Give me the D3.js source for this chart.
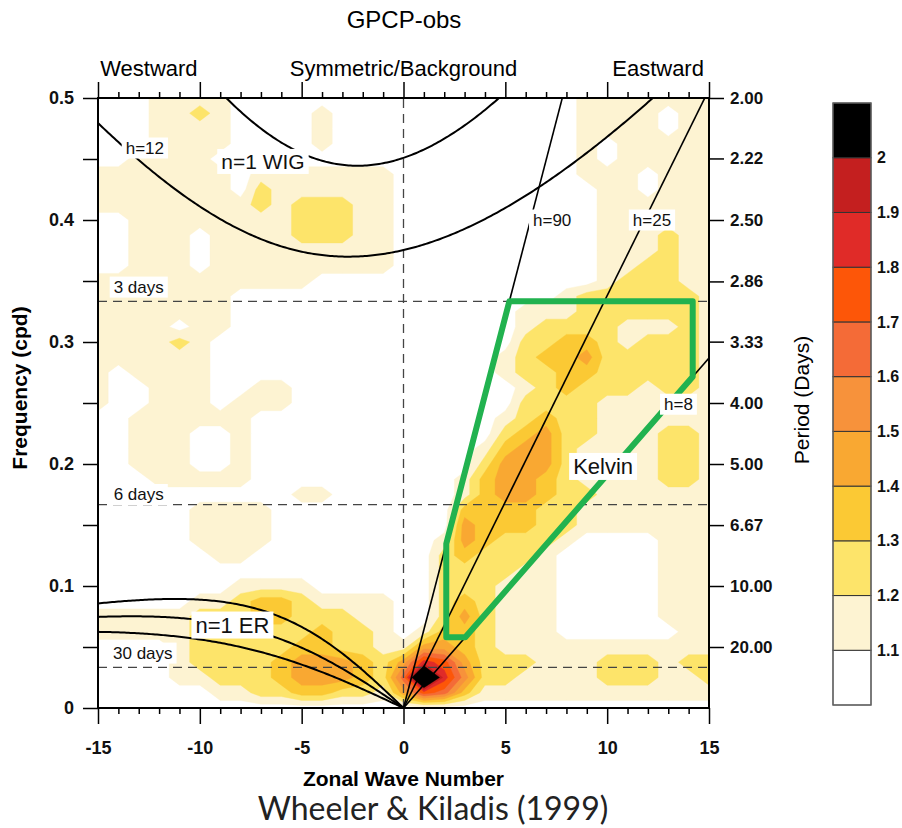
<!DOCTYPE html>
<html>
<head>
<meta charset="utf-8">
<script src="https://cdn.jsdelivr.net/npm/d3@7"></script>
<style>
  html, body { margin: 0; padding: 0; background: #fff; }
  svg { display: block; font-family: "Liberation Sans", Arial, sans-serif; }
</style>
</head>
<body>
<svg id="chart" width="902" height="828"></svg>
<script>
// grid of the normalised symmetric spectrum
// columns: zonal wavenumber -15..15, rows: frequency 0.5 (top) .. 0 (bottom)
const waveNumbers = d3.range(-15, 16);
const frequencies = d3.range(40, -1, -1).map((i) => i * 0.0125);

// one char per cell: 0 = below 1.1, 1 = 1.1-1.2, ... 9 = 1.9-2.0, X = above 2
const levelCodes = "0123456789X";
const levelValues = [1.05, 1.15, 1.25, 1.35, 1.45, 1.55, 1.65, 1.75, 1.85, 1.95, 2.5];

// westward | k=0 | eastward
const powerRows = [
  "000111100000000|0|000000001111111",
  "000112100001000|0|000000001111011",
  "000111100001000|0|000000001111011",
  "000111100001000|0|000000001011111",
  "001111000000000|0|000000001011111",
  "111111101111111|0|000000001110111",
  "111111102111111|0|000000000110111",
  "111111112122211|0|000000000111111",
  "001111111122211|0|000000000111111",
  "001110111122211|0|000000000111211",
  "001110111111111|0|000000000111211",
  "001110111111111|0|000000000112211",
  "111111111110000|0|000000000122211",
  "111111100000000|0|000000012222221",
  "111111100000000|0|000001112222221",
  "111101100000000|0|000001222211121",
  "111121000000000|0|000002233212221",
  "111111000000000|0|000012334222221",
  "101111000000000|0|000012233222221",
  "100111001100000|0|000001232221221",
  "100111011100000|0|000002222111111",
  "001111110000000|0|000012322111111",
  "001110010000000|0|000023422111221",
  "001110010000000|0|000134421111221",
  "001110010000000|0|000244421111221",
  "000111110000000|0|001344321111221",
  "000000000011000|0|001344322111111",
  "000001111000000|0|003333221111111",
  "000001111000000|0|004333221111111",
  "000001111000000|0|014322210000111",
  "000000110000000|0|023222100000111",
  "000000000000000|0|022221100000111",
  "000000011110000|0|022211100000111",
  "000001123321111|0|023211100000111",
  "111112223322211|0|024211100000111",
  "111112222223221|0|133211100000011",
  "000012222233221|1|443211111111111",
  "000012222344432|4|874222111222122",
  "000011222344432|6|X85221111222112",
  "000000112233221|4|763111111111111",
  "000000000000000|0|000000000000000",
];

const contourLevels = [1.1, 1.2, 1.3, 1.4, 1.5, 1.6, 1.7, 1.8, 1.9, 2.0];
const levelColors = ["#ffffff", "#fdf3d2", "#fde46a", "#fbc934", "#f9a832", "#f7923b",
  "#f46b37", "#fd5608", "#e02b28", "#c41f1f", "#000000"];

// equivalent depths (m) of the theoretical curves
const kelvinDepths = [8, 25, 90];
const erDepths = [12, 25, 50];
const wigDepths = [12, 25];

// Kelvin filter box
const kelvinBox = { kMin: 2.1, kMax: 14.2, fMin: 0.058, fMax: 1 / 3, hMin: 8, hMax: 90 };

const dayLines = [3, 6, 30];
const periodTicks = [2, 2.22, 2.5, 2.86, 3.33, 4, 5, 6.67, 10, 20];

const curveLabels = [
  { text: "h=12", k: -12.7, f: 0.459, size: 17 },
  { text: "n=1 WIG", k: -6.9, f: 0.448, size: 21 },
  { text: "h=90", k: 7.3, f: 0.4, size: 17 },
  { text: "h=25", k: 12.2, f: 0.4, size: 17 },
  { text: "h=8", k: 13.5, f: 0.249, size: 17 },
  { text: "Kelvin", k: 9.8, f: 0.198, size: 22 },
  { text: "n=1 ER", k: -8.4, f: 0.068, size: 22 },
  { text: "3 days", k: -13.0, f: 0.345, size: 17 },
  { text: "6 days", k: -13.0, f: 0.175, size: 17 },
  { text: "30 days", k: -12.8, f: 0.045, size: 17 },
];

// physics for the dispersion curves
const G = 9.81;
const EARTH_R = 6.371e6;
const BETA = (2 * 7.292e-5) / EARTH_R;
const TO_CPD = 86400 / (2 * Math.PI);

function kelvinFreq(h, k) {
  return (Math.sqrt(G * h) * k / EARTH_R) * TO_CPD;
}

function erFreq(h, k) {
  const c = Math.sqrt(G * h);
  const kd = k / EARTH_R;
  return (-BETA * kd / (kd * kd + 3 * BETA / c)) * TO_CPD;
}

function wigFreq(h, k) {
  // largest root of w^3 - (c^2 k^2 + 3 beta c) w - beta k c^2 = 0
  const c = Math.sqrt(G * h);
  const kd = k / EARTH_R;
  const p = -(c * c * kd * kd + 3 * BETA * c);
  const q = -BETA * kd * c * c;
  const m = 2 * Math.sqrt(-p / 3);
  const arg = Math.max(-1, Math.min(1, (3 * q) / (p * m)));
  return m * Math.cos(Math.acos(arg) / 3) * TO_CPD;
}

const svg = d3.select("#chart");
const x = d3.scaleLinear().domain([-15, 15]).range([98, 709]);
const y = d3.scaleLinear().domain([0, 0.5]).range([708, 98]);

svg.append("defs").append("clipPath").attr("id", "plotClip")
  .append("rect")
  .attr("x", x(-15)).attr("y", y(0.5))
  .attr("width", x(15) - x(-15)).attr("height", y(0) - y(0.5));

const plot = svg.append("g").attr("clip-path", "url(#plotClip)");

// filled contours
const values = [];
for (const row of powerRows) {
  for (const ch of row.replace(/\|/g, "")) values.push(levelValues[levelCodes.indexOf(ch)]);
}
const nx = waveNumbers.length;
const ny = frequencies.length;
const fStep = frequencies[0] - frequencies[1];
const contours = d3.contours().size([nx, ny]).thresholds(contourLevels)(values);
const gridPath = d3.geoPath(d3.geoTransform({
  point(px, py) {
    this.stream.point(x(waveNumbers[0] + (px - 0.5)), y(frequencies[0] - (py - 0.5) * fStep));
  },
}));
plot.append("g").selectAll("path")
  .data(contours)
  .join("path")
  .attr("d", gridPath)
  .attr("fill", (d, i) => levelColors[i + 1])
  .attr("stroke", (d, i) => levelColors[i + 1])
  .attr("stroke-width", 0.4);

// dashed reference lines
const dash = plot.append("g").attr("stroke", "#444").attr("stroke-width", 1.3)
  .attr("stroke-dasharray", "9,6").attr("fill", "none");
for (const d of dayLines) {
  dash.append("line").attr("x1", x(-15)).attr("x2", x(15)).attr("y1", y(1 / d)).attr("y2", y(1 / d));
}
dash.append("line").attr("x1", x(0)).attr("x2", x(0)).attr("y1", y(0)).attr("y2", y(0.5));

// dispersion curves
const line = d3.line().x((d) => x(d[0])).y((d) => y(d[1]));
const curves = plot.append("g").attr("fill", "none").attr("stroke", "#000");
const westK = d3.range(-15, 0.0001, 0.1);
const allK = d3.range(-15, 15.0001, 0.1);
for (const h of kelvinDepths) {
  curves.append("path").attr("stroke-width", 1.6)
    .attr("d", line([[0, 0], [15, kelvinFreq(h, 15)]]));
}
for (const h of erDepths) {
  curves.append("path").attr("stroke-width", 2)
    .attr("d", line(westK.map((k) => [k, erFreq(h, k)])));
}
for (const h of wigDepths) {
  curves.append("path").attr("stroke-width", 2)
    .attr("d", line(allK.map((k) => [k, wigFreq(h, k)])));
}

// Kelvin box
const b = kelvinBox;
const kAt = (h, f) => f / kelvinFreq(h, 1);
const boxPts = [
  [b.kMin, b.fMin],
  [b.kMin, kelvinFreq(b.hMax, b.kMin)],
  [kAt(b.hMax, b.fMax), b.fMax],
  [b.kMax, b.fMax],
  [b.kMax, kelvinFreq(b.hMin, b.kMax)],
  [kAt(b.hMin, b.fMin), b.fMin],
];
plot.append("path")
  .attr("d", line(boxPts) + "Z")
  .attr("fill", "none").attr("stroke", "#21b24f").attr("stroke-width", 6)
  .attr("stroke-linejoin", "round");

// labels with white boxes
for (const lab of curveLabels) {
  const g = svg.append("g");
  const t = g.append("text")
    .attr("x", x(lab.k)).attr("y", y(lab.f))
    .attr("text-anchor", "middle").attr("dominant-baseline", "central")
    .attr("font-size", lab.size).attr("fill", "#111")
    .text(lab.text);
  const bb = t.node().getBBox();
  g.insert("rect", "text")
    .attr("x", bb.x - 4).attr("y", bb.y - 1)
    .attr("width", bb.width + 8).attr("height", bb.height + 2)
    .attr("fill", "#fff");
}

// axes
function styleAxis(g, size) {
  g.select(".domain").remove();
  g.selectAll(".tick line").attr("stroke", "#000").attr("stroke-width", 1.5);
  g.selectAll(".tick text").attr("font-size", size).attr("font-weight", "bold").attr("fill", "#111");
}
const majorK = [-15, -10, -5, 0, 5, 10, 15];
const minorK = waveNumbers.filter((k) => k % 5 !== 0);

svg.append("g").attr("transform", `translate(0,${y(0)})`)
  .call(d3.axisBottom(x).tickValues(minorK).tickSize(6).tickFormat(""))
  .call((g) => styleAxis(g, 18));
svg.append("g").attr("transform", `translate(0,${y(0)})`)
  .call(d3.axisBottom(x).tickValues(majorK).tickSize(16).tickPadding(17).tickFormat((d) => String(d)))
  .call((g) => styleAxis(g, 18));
svg.append("g").attr("transform", `translate(0,${y(0.5)})`)
  .call(d3.axisTop(x).tickValues(minorK).tickSize(6).tickFormat(""))
  .call((g) => styleAxis(g, 18));
svg.append("g").attr("transform", `translate(0,${y(0.5)})`)
  .call(d3.axisTop(x).tickValues(majorK).tickSize(16).tickFormat(""))
  .call((g) => styleAxis(g, 18));

svg.append("g").attr("transform", `translate(${x(-15)},0)`)
  .call(d3.axisLeft(y).tickValues(d3.range(0, 0.5001, 0.05)).tickSize(15).tickPadding(9)
    .tickFormat((d) => (Math.round(d * 100) % 10 === 0 ? d3.format("~g")(+d.toFixed(1)) : "")))
  .call((g) => styleAxis(g, 18));

svg.append("g").attr("transform", `translate(${x(15)},0)`)
  .call(d3.axisRight(y).tickValues(periodTicks.map((p) => 1 / p)).tickSize(15).tickPadding(6)
    .tickFormat((d, i) => periodTicks[i].toFixed(2)))
  .call((g) => styleAxis(g, 17));

svg.append("rect")
  .attr("x", x(-15)).attr("y", y(0.5))
  .attr("width", x(15) - x(-15)).attr("height", y(0) - y(0.5))
  .attr("fill", "none").attr("stroke", "#000").attr("stroke-width", 2);

// titles
svg.append("text").attr("x", 404).attr("y", 28).attr("text-anchor", "middle")
  .attr("font-size", 24).text("GPCP-obs");
const heads = [["Westward", -12.5], ["Symmetric/Background", 0], ["Eastward", 12.5]];
for (const [txt, k] of heads) {
  svg.append("text").attr("x", x(k)).attr("y", 76).attr("text-anchor", "middle")
    .attr("font-size", 22).text(txt);
}
svg.append("text").attr("x", x(0)).attr("y", 786).attr("text-anchor", "middle")
  .attr("font-size", 21).attr("font-weight", "bold").text("Zonal Wave Number");
svg.append("text").attr("transform", "translate(27,388) rotate(-90)").attr("text-anchor", "middle")
  .attr("font-size", 21).attr("font-weight", "bold").text("Frequency (cpd)");
svg.append("text").attr("transform", "translate(809,400) rotate(-90)").attr("text-anchor", "middle")
  .attr("font-size", 21).text("Period (Days)");
svg.append("text").attr("x", 433).attr("y", 820).attr("text-anchor", "middle")
  .attr("font-family", "Lato, 'Open Sans', sans-serif").attr("font-size", 32)
  .attr("fill", "#222").text("Wheeler & Kiladis (1999)");

// colorbar
const cb = d3.scaleLinear().domain([1.0, 2.1]).range([705, 103]);
const cbX = 833, cbW = 38;
const cbG = svg.append("g");
levelColors.forEach((c, i) => {
  const lo = 1.0 + i * 0.1;
  cbG.append("rect")
    .attr("x", cbX).attr("y", cb(lo + 0.1)).attr("width", cbW).attr("height", cb(lo) - cb(lo + 0.1))
    .attr("fill", c).attr("stroke", "#333").attr("stroke-width", 1);
});
cbG.append("rect").attr("x", cbX).attr("y", cb(2.1)).attr("width", cbW).attr("height", cb(1.0) - cb(2.1))
  .attr("fill", "none").attr("stroke", "#666").attr("stroke-width", 1.2);
for (const v of contourLevels) {
  cbG.append("text").attr("x", cbX + cbW + 6).attr("y", cb(v)).attr("dy", "0.35em")
    .attr("font-size", 16).attr("font-weight", "bold").attr("fill", "#111")
    .text(d3.format("~g")(v));
}
</script>
</body>
</html>
